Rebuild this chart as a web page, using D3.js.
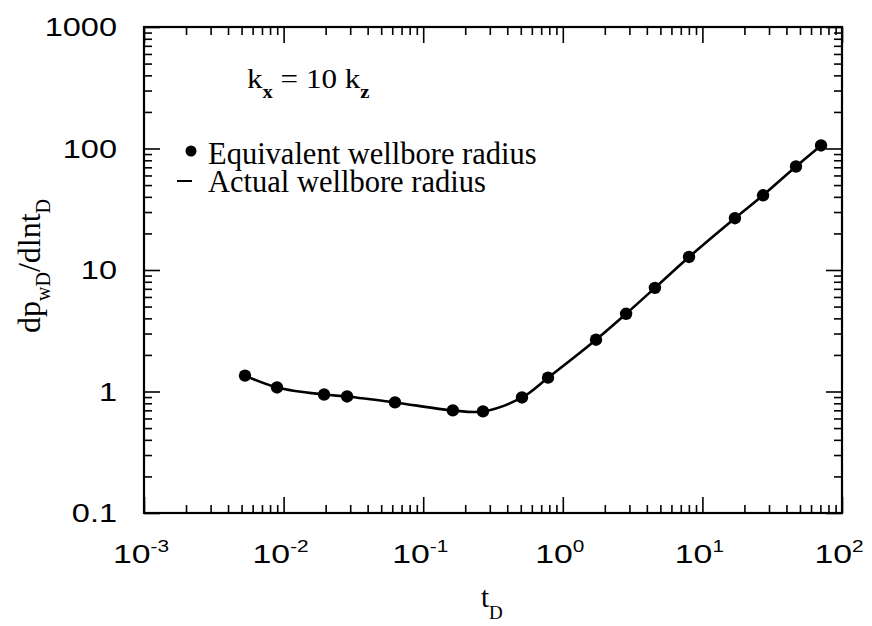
<!DOCTYPE html>
<html>
<head>
<meta charset="utf-8">
<script src="https://cdn.jsdelivr.net/npm/d3@7"></script>
<style>
  body { margin: 0; background: #fff; }
  svg { display: block; }
</style>
</head>
<body>
<svg id="chart"></svg>
<script>
const width = 872, height = 626;
const margin = { top: 27, right: 30, bottom: 113, left: 144 };

// dimensionless time and pressure derivative
const tD = [0.00529, 0.00897, 0.0195, 0.0285, 0.0628, 0.163, 0.268, 0.510, 0.784,
            1.73, 2.84, 4.57, 8.02, 17.1, 27.2, 46.8, 70.8];
const dpD = [1.35, 1.08, 0.944, 0.91, 0.813, 0.699, 0.686, 0.893, 1.30,
             2.67, 4.36, 7.12, 12.8, 26.7, 41.2, 71.1, 106];

const xDecades = [-3, -2, -1, 0, 1, 2];
const yMajor = [0.1, 1, 10, 100, 1000];
const yLabels = ["0.1", "1", "10", "100", "1000"];

const legendItems = ["Equivalent wellbore radius", "Actual wellbore radius"];

const svg = d3.select("#chart")
    .attr("width", width)
    .attr("height", height);

const x = d3.scaleLog().domain([1e-3, 1e2]).range([margin.left, width - margin.right]);
const y = d3.scaleLog().domain([0.1, 1000]).range([height - margin.bottom, margin.top]);

const serif = "'Liberation Serif', 'Times New Roman', serif";
const sans = "'Liberation Sans', Arial, sans-serif";

// minor tick values: 2..9 within each decade
function minors(scale) {
    return scale.ticks().filter(v => {
        const m = v / Math.pow(10, Math.floor(Math.log10(v) + 1e-9));
        return Math.abs(m - 1) > 1e-6;
    });
}

const xMajorVals = xDecades.map(e => Math.pow(10, e));
const bottom = height - margin.bottom, right = width - margin.right;

function styleAxis(g) {
    g.select(".domain").remove();
    g.selectAll("line").attr("stroke", "#000").attr("stroke-width", 1.6);
}

// ticks on all four sides, pointing inward
svg.append("g").attr("transform", `translate(0,${bottom})`)
    .call(d3.axisBottom(x).tickValues(minors(x)).tickSize(-8).tickFormat(""))
    .call(styleAxis);
svg.append("g").attr("transform", `translate(0,${bottom})`)
    .call(d3.axisBottom(x).tickValues(xMajorVals).tickSize(-16).tickFormat(""))
    .call(styleAxis);
svg.append("g").attr("transform", `translate(0,${margin.top})`)
    .call(d3.axisTop(x).tickValues(minors(x)).tickSize(-8).tickFormat(""))
    .call(styleAxis);
svg.append("g").attr("transform", `translate(0,${margin.top})`)
    .call(d3.axisTop(x).tickValues(xMajorVals).tickSize(-16).tickFormat(""))
    .call(styleAxis);

svg.append("g").attr("transform", `translate(${margin.left},0)`)
    .call(d3.axisLeft(y).tickValues(minors(y)).tickSize(-8).tickFormat(""))
    .call(styleAxis);
svg.append("g").attr("transform", `translate(${margin.left},0)`)
    .call(d3.axisLeft(y).tickValues(yMajor).tickSize(-16).tickFormat(""))
    .call(styleAxis);
svg.append("g").attr("transform", `translate(${right},0)`)
    .call(d3.axisRight(y).tickValues(minors(y)).tickSize(-8).tickFormat(""))
    .call(styleAxis);
svg.append("g").attr("transform", `translate(${right},0)`)
    .call(d3.axisRight(y).tickValues(yMajor).tickSize(-16).tickFormat(""))
    .call(styleAxis);

// frame
svg.append("rect")
    .attr("x", margin.left).attr("y", margin.top)
    .attr("width", right - margin.left).attr("height", bottom - margin.top)
    .attr("fill", "none").attr("stroke", "#000").attr("stroke-width", 2.2);

// y tick labels
svg.append("g").selectAll("text")
    .data(yMajor)
    .join("text")
    .attr("transform", (d, i) => `translate(117,${y(d) + 9}) scale(1.25,1)`)
    .attr("text-anchor", "end")
    .style("font-family", sans)
    .style("font-size", "26px")
    .text((d, i) => yLabels[i]);

// x tick labels as powers of ten
const xl = svg.append("g").selectAll("text")
    .data(xDecades)
    .join("text")
    .attr("transform", d => `translate(${x(Math.pow(10, d)) - 3},563) scale(1.3,1)`)
    .attr("text-anchor", "middle")
    .style("font-family", sans)
    .style("font-size", "26px");
xl.append("tspan").text("10");
xl.append("tspan")
    .attr("dy", -11)
    .style("font-size", "16px")
    .text(d => d < 0 ? "-" + (-d) : String(d));

// curve and points
const line = d3.line()
    .x(d => x(d[0]))
    .y(d => y(d[1]))
    .curve(d3.curveCatmullRom);

const pts = tD.map((t, i) => [t, dpD[i]]);

svg.append("path")
    .datum(pts)
    .attr("d", line)
    .attr("fill", "none")
    .attr("stroke", "#000")
    .attr("stroke-width", 2.6);

svg.append("g").selectAll("circle")
    .data(pts)
    .join("circle")
    .attr("cx", d => x(d[0]))
    .attr("cy", d => y(d[1]))
    .attr("r", 6.2)
    .attr("fill", "#000");

// annotation k_x = 10 k_z
const ann = svg.append("text")
    .attr("transform", "translate(247,88) scale(1.15,1)")
    .style("font-family", serif)
    .style("font-size", "27px");
ann.append("tspan").text("k");
ann.append("tspan").attr("dy", 10).style("font-size", "18px").style("font-weight", "bold").text("x");
ann.append("tspan").attr("dy", -10).text(" = 10 k");
ann.append("tspan").attr("dy", 10).style("font-size", "18px").style("font-weight", "bold").text("z");

// legend
svg.append("circle").attr("cx", 191).attr("cy", 151).attr("r", 5.5).attr("fill", "#000");
svg.append("line").attr("x1", 177).attr("x2", 192).attr("y1", 181).attr("y2", 181)
    .attr("stroke", "#000").attr("stroke-width", 2);
svg.append("g").selectAll("text")
    .data(legendItems)
    .join("text")
    .attr("x", 208)
    .attr("y", (d, i) => 164 + i * 28)
    .style("font-family", serif)
    .style("font-size", "30.5px")
    .text(d => d);

// axis titles
const yt = svg.append("text")
    .attr("transform", "translate(40,266) rotate(-90)")
    .attr("text-anchor", "middle")
    .style("font-family", serif)
    .style("font-size", "32px");
yt.append("tspan").text("dp");
yt.append("tspan").attr("dy", 10).style("font-size", "20px").text("wD");
yt.append("tspan").attr("dy", -10).text("/dlnt");
yt.append("tspan").attr("dy", 10).style("font-size", "20px").text("D");

const xt = svg.append("text")
    .attr("x", 481).attr("y", 607)
    .style("font-family", serif)
    .style("font-size", "29px");
xt.append("tspan").text("t");
xt.append("tspan").attr("dy", 12).style("font-size", "19px").text("D");
</script>
</body>
</html>
